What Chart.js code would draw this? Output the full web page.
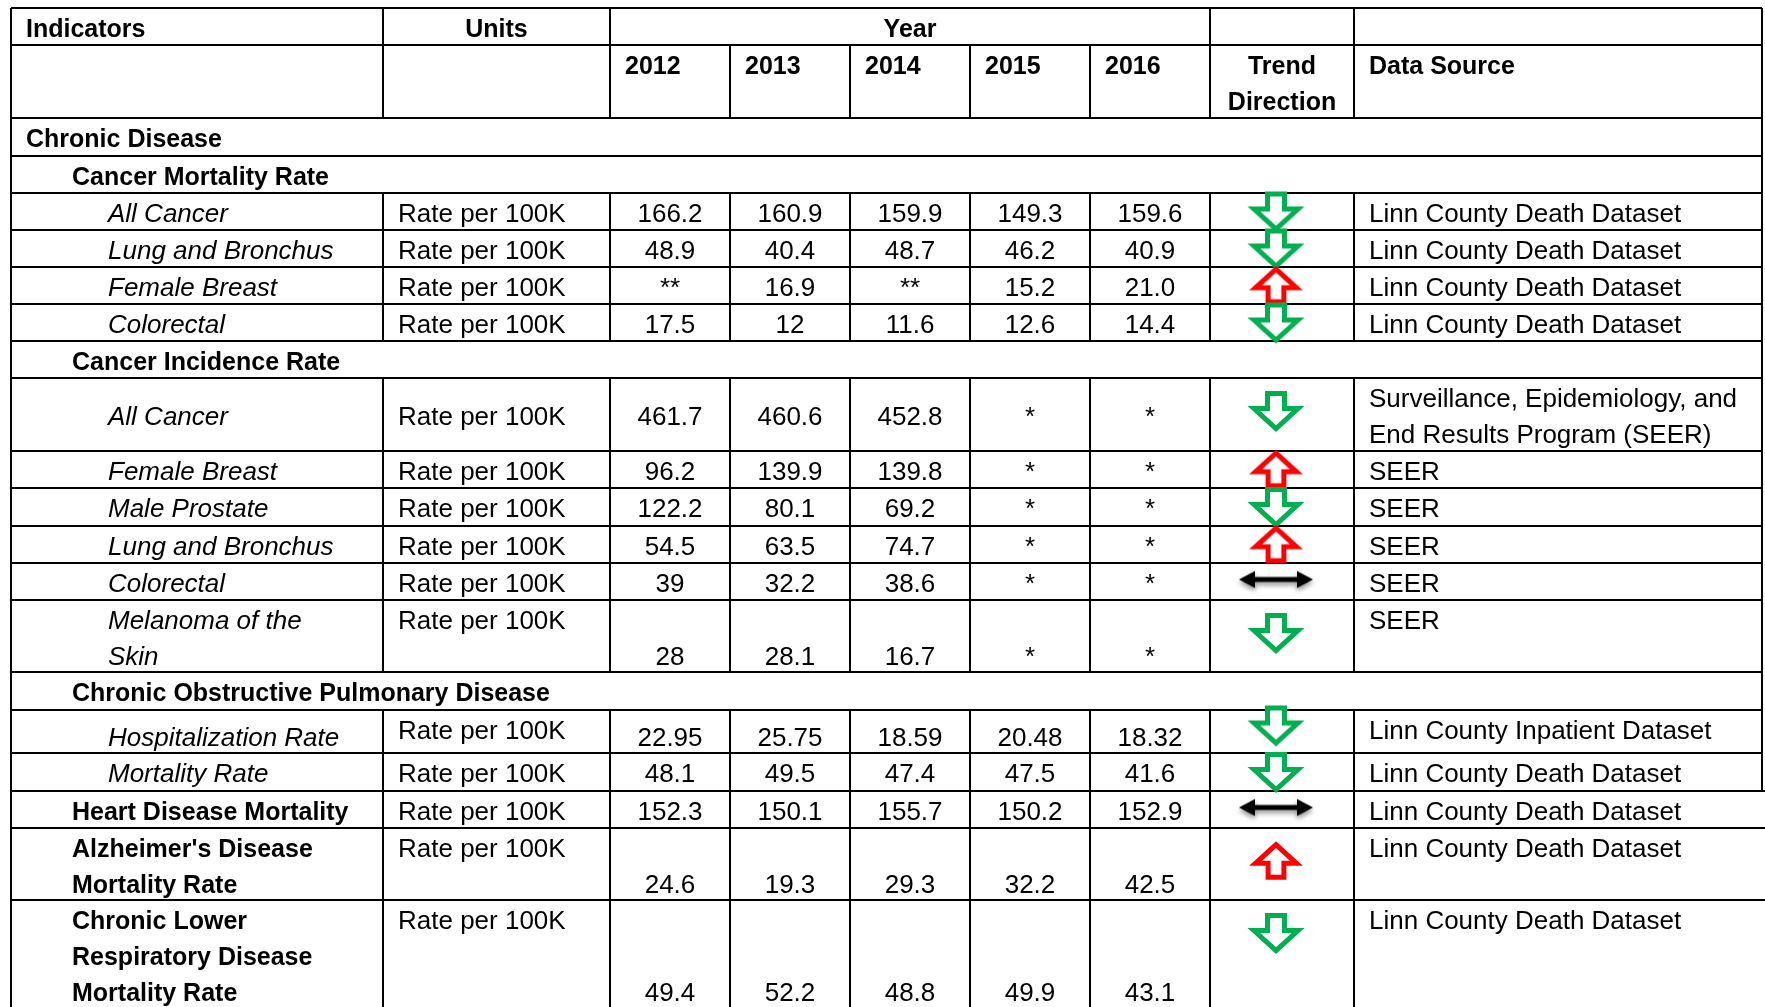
<!DOCTYPE html>
<html>
<head>
<meta charset="utf-8">
<script src="https://cdn.jsdelivr.net/npm/chart.js@4.4.0/dist/chart.umd.min.js"></script>
<style>
  html, body { margin: 0; padding: 0; background: #fff; }
  canvas { display: block; }
</style>
</head>
<body>
<canvas id="tabla" width="1765" height="1007"></canvas>
<script>
// ---- datos de la tabla ----
const years = ['2012', '2013', '2014', '2015', '2016'];

const indicators = [
    'Chronic Disease',
    'Cancer Mortality Rate',
    'All Cancer',
    'Lung and Bronchus',
    'Female Breast',
    'Colorectal',
    'Cancer Incidence Rate',
    'All Cancer',
    'Female Breast',
    'Male Prostate',
    'Lung and Bronchus',
    'Colorectal',
    'Melanoma of the\nSkin',
    'Chronic Obstructive Pulmonary Disease',
    'Hospitalization Rate',
    'Mortality Rate',
    'Heart Disease Mortality',
    "Alzheimer's Disease\nMortality Rate",
    'Chronic Lower\nRespiratory Disease\nMortality Rate'
];

const units = [null, null, 'Rate per 100K', 'Rate per 100K', 'Rate per 100K', 'Rate per 100K', null,
    'Rate per 100K', 'Rate per 100K', 'Rate per 100K', 'Rate per 100K', 'Rate per 100K', 'Rate per 100K', null,
    'Rate per 100K', 'Rate per 100K', 'Rate per 100K', 'Rate per 100K', 'Rate per 100K'];

const val2012 = [null, null, '166.2', '48.9', '**', '17.5', null, '461.7', '96.2', '122.2', '54.5', '39', '28', null, '22.95', '48.1', '152.3', '24.6', '49.4'];
const val2013 = [null, null, '160.9', '40.4', '16.9', '12', null, '460.6', '139.9', '80.1', '63.5', '32.2', '28.1', null, '25.75', '49.5', '150.1', '19.3', '52.2'];
const val2014 = [null, null, '159.9', '48.7', '**', '11.6', null, '452.8', '139.8', '69.2', '74.7', '38.6', '16.7', null, '18.59', '47.4', '155.7', '29.3', '48.8'];
const val2015 = [null, null, '149.3', '46.2', '15.2', '12.6', null, '*', '*', '*', '*', '*', '*', null, '20.48', '47.5', '150.2', '32.2', '49.9'];
const val2016 = [null, null, '159.6', '40.9', '21.0', '14.4', null, '*', '*', '*', '*', '*', '*', null, '18.32', '41.6', '152.9', '42.5', '43.1'];

const trend = [null, null, 'down', 'down', 'up', 'down', null, 'down', 'up', 'down', 'up', 'flat', 'down', null, 'down', 'down', 'flat', 'up', 'down'];

const sources = [null, null,
    'Linn County Death Dataset', 'Linn County Death Dataset', 'Linn County Death Dataset', 'Linn County Death Dataset', null,
    'Surveillance, Epidemiology, and\nEnd Results Program (SEER)', 'SEER', 'SEER', 'SEER', 'SEER', 'SEER', null,
    'Linn County Inpatient Dataset', 'Linn County Death Dataset', 'Linn County Death Dataset', 'Linn County Death Dataset', 'Linn County Death Dataset'];

// ---- maquetación ----
const W = 1765, H = 1007;
const colEdges = [11, 383, 610, 730, 850, 970, 1090, 1210, 1354, 1762];
const tableTop = 8;
const headHeights = [37, 73];
const rowHeights = [38, 37, 37, 37, 37, 37, 37, 73, 37, 38, 37, 37, 72, 38, 43, 38, 37, 72, 110];
const levels = [0, 1, 2, 2, 2, 2, 1, 2, 2, 2, 2, 2, 2, 1, 2, 2, 1, 1, 1];
const labelLine = [0, 0, 0, 0, 0, 0, 0, 0.5, 0, 0, 0, 0, 0, 0, 0.2, 0, 0, 0, 0];
const unitLine  = [0, 0, 0, 0, 0, 0, 0, 0.5, 0, 0, 0, 0, 0, 0, 0, 0, 0, 0, 0];
const valueLine = [0, 0, 0, 0, 0, 0, 0, 0.5, 0, 0, 0, 0, 1, 0, 0.2, 0, 0, 1, 2];
const indent = [26, 72, 108];
const pad = 15;
const firstBase = 29, lineStep = 36;
const FONT = '"Liberation Sans", Arial, sans-serif';
const fontSize = 26, boldSize = 25;

const yearValues = [val2012, val2013, val2014, val2015, val2016];

let rowTops = [];
let acc = tableTop + headHeights[0] + headHeights[1];
rowHeights.forEach(h => { rowTops.push(acc); acc += h; });

// flechas de tendencia
function flecha(color, up, scale) {
    const c = document.createElement('canvas');
    c.width = 58; c.height = 48;
    const g = c.getContext('2d');
    const cx = 29, sw = 8.5 * scale, hw = 22 * scale;
    const top = 24 - 17.5 * scale, headY = 24 - 2.5 * scale, tip = 24 + 17.5 * scale;
    g.save();
    if (up) { g.translate(0, 48); g.scale(1, -1); }
    g.beginPath();
    g.moveTo(cx - sw, top);
    g.lineTo(cx + sw, top);
    g.lineTo(cx + sw, headY);
    g.lineTo(cx + hw, headY);
    g.lineTo(cx, tip);
    g.lineTo(cx - hw, headY);
    g.lineTo(cx - sw, headY);
    g.closePath();
    g.fillStyle = '#fff';
    g.fill();
    g.lineWidth = 5;
    g.strokeStyle = color;
    g.stroke();
    g.restore();
    return c;
}

function flechaDoble() {
    const c = document.createElement('canvas');
    c.width = 90; c.height = 34;
    const g = c.getContext('2d');
    g.shadowColor = 'rgba(0,0,0,0.45)';
    g.shadowBlur = 5;
    g.shadowOffsetY = 3;
    g.fillStyle = '#000';
    g.beginPath();
    g.moveTo(8, 15);
    g.lineTo(24, 6.5);
    g.lineTo(24, 12.5);
    g.lineTo(66, 12.5);
    g.lineTo(66, 6.5);
    g.lineTo(82, 15);
    g.lineTo(66, 23.5);
    g.lineTo(66, 17.5);
    g.lineTo(24, 17.5);
    g.lineTo(24, 23.5);
    g.closePath();
    g.fill();
    return c;
}

const arrowImgs = {
    down: flecha('#00B050', false, 1),
    up: flecha('#FF0000', true, 0.93),
    flat: flechaDoble()
};

const trendX = (colEdges[7] + colEdges[8]) / 2 - 6;
let trendPoints = [];
trend.forEach((t, i) => {
    if (!t) return;
    const h = rowHeights[i];
    let yc = rowTops[i] + Math.min(h / 2, 33);
    if (h > 40 && h < 60) yc -= 6;
    trendPoints.push({ x: trendX, y: yc, t: t });
});

function escribir(ctx, txt, x, top, line, align, estilo) {
    const size = estilo === 'bold' ? boldSize : fontSize;
    ctx.font = estilo + ' ' + size + 'px ' + FONT;
    ctx.textAlign = align;
    ctx.textBaseline = 'alphabetic';
    ctx.fillStyle = '#000';
    txt.split('\n').forEach((s, k) => {
        ctx.fillText(s, x, top + firstBase + (line + k) * lineStep);
    });
}

const tablaPlugin = {
    id: 'tabla',
    beforeDatasetsDraw(chart) {
        const ctx = chart.ctx;
        const sx = chart.scales.x, sy = chart.scales.y;
        const X = v => sx.getPixelForValue(v);
        const Y = v => sy.getPixelForValue(v);
        ctx.save();
        ctx.strokeStyle = '#000';
        ctx.lineWidth = 2;
        const linea = (x1, y1, x2, y2) => {
            ctx.beginPath();
            ctx.moveTo(X(x1), Y(y1));
            ctx.lineTo(X(x2), Y(y2));
            ctx.stroke();
        };
        const left = colEdges[0], right = colEdges[colEdges.length - 1];
        const rightEnd = rowTops[16];
        // horizontales
        let y = tableTop;
        linea(left, y, right, y);
        y += headHeights[0];
        linea(left, y, right, y);
        y += headHeights[1];
        linea(left, y, right, y);
        rowTops.forEach((t, i) => {
            const yb = t + rowHeights[i];
            linea(left, yb, yb >= rightEnd ? W : right, yb);
        });
        // borde izquierdo y derecho
        linea(left, tableTop, left, H);
        linea(right, tableTop, right, rightEnd);
        // cabecera fila 1
        [1, 2, 7, 8].forEach(c => linea(colEdges[c], tableTop, colEdges[c], tableTop + headHeights[0]));
        for (let c = 1; c < colEdges.length - 1; c++) {
            linea(colEdges[c], tableTop + headHeights[0], colEdges[c], tableTop + headHeights[0] + headHeights[1]);
        }
        // cuerpo
        rowTops.forEach((t, i) => {
            if (!units[i]) return;
            for (let c = 1; c < colEdges.length - 1; c++) {
                linea(colEdges[c], t, colEdges[c], t + rowHeights[i]);
            }
        });
        ctx.restore();
    },
    afterDatasetsDraw(chart) {
        const ctx = chart.ctx;
        const sx = chart.scales.x, sy = chart.scales.y;
        const X = v => sx.getPixelForValue(v);
        const Y = v => sy.getPixelForValue(v);
        ctx.save();
        // cabecera
        const h0 = tableTop, h1 = tableTop + headHeights[0];
        escribir(ctx, 'Indicators', X(colEdges[0] + pad), Y(h0), 0, 'left', 'bold');
        escribir(ctx, 'Units', X((colEdges[1] + colEdges[2]) / 2), Y(h0), 0, 'center', 'bold');
        escribir(ctx, 'Year', X((colEdges[2] + colEdges[7]) / 2), Y(h0), 0, 'center', 'bold');
        years.forEach((yr, k) => escribir(ctx, yr, X(colEdges[2 + k] + pad), Y(h1), 0, 'left', 'bold'));
        escribir(ctx, 'Trend\nDirection', X((colEdges[7] + colEdges[8]) / 2), Y(h1), 0, 'center', 'bold');
        escribir(ctx, 'Data Source', X(colEdges[8] + pad), Y(h1), 0, 'left', 'bold');
        // filas
        indicators.forEach((lab, i) => {
            const t = Y(rowTops[i]);
            const estilo = levels[i] === 2 ? 'italic' : 'bold';
            escribir(ctx, lab, X(indent[levels[i]]), t, labelLine[i], 'left', estilo);
            if (units[i]) escribir(ctx, units[i], X(colEdges[1] + pad), t, unitLine[i], 'left', 'normal');
            yearValues.forEach((arr, k) => {
                if (arr[i]) escribir(ctx, arr[i], X((colEdges[2 + k] + colEdges[3 + k]) / 2), t, valueLine[i], 'center', 'normal');
            });
            if (sources[i]) escribir(ctx, sources[i], X(colEdges[8] + pad), t, 0, 'left', 'normal');
        });
        ctx.restore();
    }
};

new Chart(document.getElementById('tabla'), {
    type: 'scatter',
    data: {
        datasets: [{
            data: trendPoints,
            pointStyle: c => arrowImgs[c.raw ? c.raw.t : 'down'],
            pointRadius: 10,
            pointHoverRadius: 10
        }]
    },
    options: {
        responsive: false,
        animation: false,
        events: [],
        layout: { padding: 0, autoPadding: false },
        scales: {
            x: { type: 'linear', min: 0, max: W, display: false },
            y: { type: 'linear', min: 0, max: H, reverse: true, display: false }
        },
        plugins: {
            legend: { display: false },
            tooltip: { enabled: false }
        }
    },
    plugins: [tablaPlugin]
});
</script>
</body>
</html>
